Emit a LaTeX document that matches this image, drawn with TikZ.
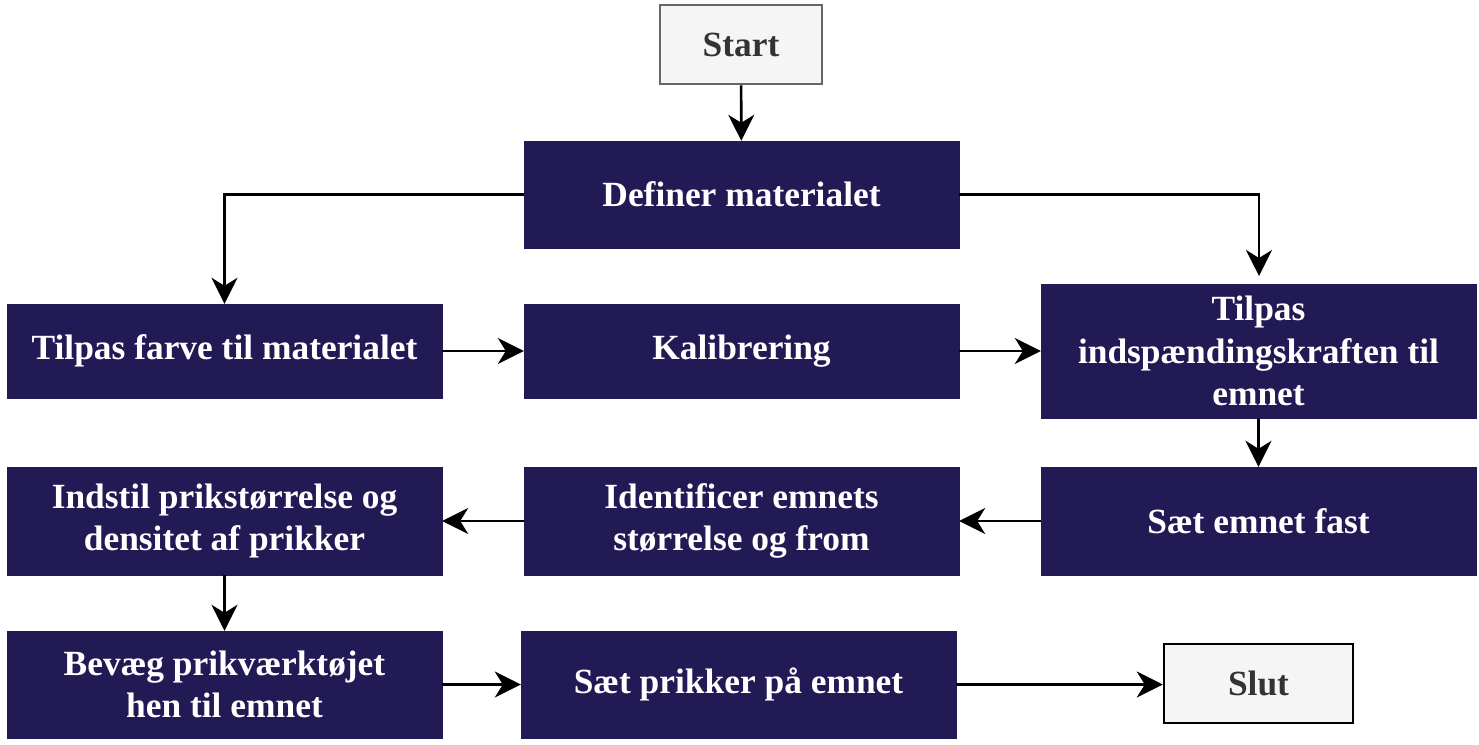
\documentclass[tikz,border=0pt]{standalone}
\usepackage{fontspec}
\setmainfont{Liberation Serif}
\usetikzlibrary{arrows.meta}
\definecolor{navy}{HTML}{221A54}
\definecolor{lightbox}{HTML}{F5F5F5}
\definecolor{graybd}{HTML}{666666}
\definecolor{darktxt}{HTML}{333333}
\tikzset{
  x=1pt,y=-1pt,
  stepbox/.style={draw=navy,fill=navy,text=white,font=\fontsize{35.4}{42.5}\selectfont\bfseries,
    align=center,inner sep=0pt,minimum width=435pt},
  termbox/.style={fill=lightbox,text=darktxt,font=\fontsize{35.4}{42.5}\selectfont\bfseries,
    align=center,inner sep=0pt,line width=2.5pt},
  conn/.style={line width=2.6pt,-{Stealth[length=26pt,width=26pt,inset=8pt]}}
}
\begin{document}
\begin{tikzpicture}
\useasboundingbox (0,0) rectangle (1479,744);
\node[termbox,draw=graybd,minimum width=162pt,minimum height=79pt] (start) at (741,44.5) {Start};
\node[stepbox,minimum height=107pt] (def) at (741.5,194.5) {Definer materialet};
\node[stepbox,minimum height=94pt] (farve) at (224.5,351) {Tilpas farve til materialet};
\node[stepbox,minimum height=94pt] (kal) at (741.5,351) {Kalibrering};
\node[stepbox,minimum height=134pt] (indsp) at (1258.5,351) {Tilpas\\indspændingskraften til\\emnet};
\node[stepbox,minimum height=108pt] (fast) at (1258.5,521) {Sæt emnet fast};
\node[stepbox,minimum height=108pt] (ident) at (741.5,521) {Identificer emnets\\størrelse og from};
\node[stepbox,minimum height=108pt] (indstil) at (224.5,521) {Indstil prikstørrelse og\\densitet af prikker};
\node[stepbox,minimum height=107pt] (bevaeg) at (224.5,684.5) {Bevæg prikværktøjet\\hen til emnet};
\node[stepbox,minimum height=107pt] (prik) at (738.5,684.5) {Sæt prikker på emnet};
\node[termbox,draw=black,minimum width=189pt,minimum height=79pt] (slut) at (1258.5,683.5) {Slut};
\coordinate (rtip) at (1259,276);
\draw[conn] (start) -- (def);
\draw[conn] (def.west) -| (farve.north);
\draw[conn] (def.east) -| (rtip);
\draw[conn] (farve) -- (kal);
\draw[conn] (kal) -- (kal -| indsp.west);
\draw[conn] (indsp) -- (fast);
\draw[conn] (fast) -- (ident);
\draw[conn] (ident) -- (indstil);
\draw[conn] (indstil) -- (bevaeg);
\draw[conn] (bevaeg) -- (bevaeg -| prik.west);
\draw[conn] (prik) -- (prik -| slut.west);
\end{tikzpicture}
\end{document}
